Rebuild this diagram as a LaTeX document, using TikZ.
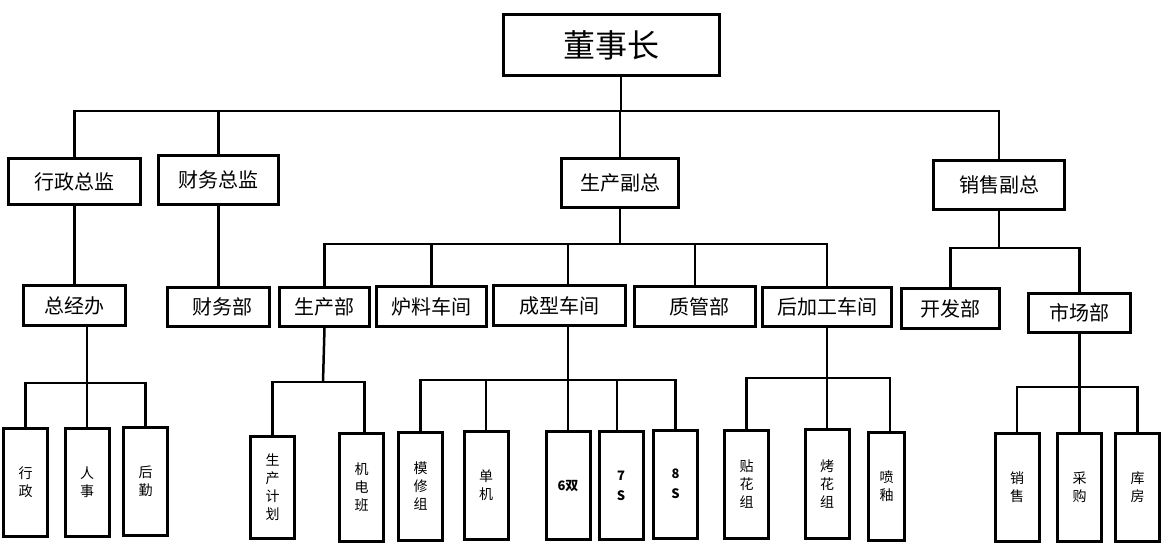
\documentclass[tikz,border=0pt]{standalone}
\usepackage{fontspec}
\newfontfamily\cjk{Noto Sans CJK SC}
\tikzset{>=latex}
\tikzset{
  orgbox/.style={draw, line width=3pt, inner sep=0pt, font=\cjk\fontsize{20}{24}\selectfont},
  colbox/.style={draw, line width=3pt, inner sep=0pt, minimum width=44pt, minimum height=108pt, align=center, font=\cjk\fontsize{14}{18}\selectfont},
  boldcol/.style={colbox, font=\cjk\bfseries\fontsize{13}{20}\selectfont},
  link/.style={line width=2.5pt}
}

\begin{document}
\begin{tikzpicture}[x=1pt,y=-1pt]
		\useasboundingbox (0,0) rectangle (1162,545);
		% top
		\node[orgbox, minimum width=216pt, minimum height=61pt, font=\cjk\fontsize{32}{36}\selectfont] (dsz) at (611.5,45) {董事长};
		% first level
		\node[orgbox, minimum width=132pt, minimum height=46pt] (xzzj) at (74.5,181.5) {行政总监};
		\node[orgbox, minimum width=120pt, minimum height=49pt] (cwzj) at (218.5,180) {财务总监};
		\node[orgbox, minimum width=117pt, minimum height=49pt] (scfz) at (620,183) {生产副总};
		\node[orgbox, minimum width=131pt, minimum height=49pt] (xsfz) at (999,185) {销售副总};
		% second level
		\node[orgbox, minimum width=102pt, minimum height=40pt] (zjb) at (74.5,305.5) {总经办};
		\node[orgbox, minimum width=102pt, minimum height=39pt] (cwb) at (218.5,307) {\hspace{8pt}财务部};
		\node[orgbox, minimum width=90pt, minimum height=39pt] (scb) at (324.5,307) {生产部};
		\node[orgbox, minimum width=110pt, minimum height=40pt] (llcj) at (431.5,306.5) {炉料车间};
		\node[orgbox, minimum width=132pt, minimum height=40pt] (cxcj) at (559.5,305.5) {成型车间};
		\node[orgbox, minimum width=121pt, minimum height=40pt] (zgb) at (695,306.5) {\hspace{8pt}质管部};
		\node[orgbox, minimum width=129pt, minimum height=39pt] (hjg) at (827,307) {后加工车间};
		\node[orgbox, minimum width=98pt, minimum height=40pt] (kfb) at (950.5,308.5) {开发部};
		\node[orgbox, minimum width=102pt, minimum height=39pt] (scb2) at (1079.5,313) {市场部};
		% third level
		\node[colbox] (xz) at (25.5,482.5) {行\\政};
		\node[colbox] (rs) at (87,482) {人\\事};
		\node[colbox] (hq) at (145.5,481) {后\\勤};
		\node[colbox, minimum height=102pt] (jh) at (272.5,487.5) {生\\产\\计\\划};
		\node[colbox] (jdb) at (361.5,487.5) {机\\电\\班};
		\node[colbox] (mxz) at (420.5,486.5) {模\\修\\组};
		\node[colbox] (dj) at (486,485.5) {单\\机};
		\node[boldcol] (sx) at (568,485.5) {6双};
		\node[boldcol] (qs) at (621,485.5) {7\\S};
		\node[boldcol] (bs) at (675.5,484) {8\\S};
		\node[colbox] (thz) at (746.5,484) {贴\\花\\组};
		\node[colbox, minimum height=109pt] (khz) at (827,484) {烤\\花\\组};
		\node[colbox, minimum width=36pt] (py) at (886.5,486.5) {喷\\釉};
		\node[colbox] (xs) at (1017,487.5) {销\\售};
		\node[colbox] (cg) at (1079.5,487.5) {采\\购};
		\node[colbox] (kf) at (1137.5,487) {库\\房};
		% bars
		\coordinate (topbar) at (621,111);
		\coordinate (scbar) at (620,244);
		\coordinate (xsbar) at (999,248);
		\coordinate (zjbar) at (87,383);
		\coordinate (scbbar) at (323,382);
		\coordinate (cxbar) at (568,380);
		\coordinate (hjbar) at (827,378);
		\coordinate (scmbar) at (1079.5,387);
		% connectors
		\draw[link] ([xshift=9.5pt]dsz.south) -- (topbar);
		\draw[link] (xzzj.north) |- (topbar) -| (xsfz.north);
		\draw[link] (cwzj.north) -- (cwzj.north |- topbar);
		\draw[link] (scfz.north) -- (scfz.north |- topbar);
		\draw[link] (xzzj.south) -- (zjb.north);
		\draw[link] (cwzj.south) -- (cwb.north);
		\draw[link] (scfz.south) -- (scbar);
		\draw[link] (scb.north) |- (scbar) -| (hjg.north);
		\draw[link] (llcj.north) -- (llcj.north |- scbar);
		\draw[link] ([xshift=8.5pt]cxcj.north) -- ([xshift=8.5pt]cxcj.north |- scbar);
		\draw[link] (zgb.north) -- (zgb.north |- scbar);
		\draw[link] (xsfz.south) -- (xsbar);
		\draw[link] (kfb.north) |- (xsbar) -| (scb2.north);
		\draw[link] ([xshift=12.5pt]zjb.south) -- (rs.north);
		\draw[link] (xz.north) |- (zjbar) -| (hq.north);
		\draw[link] (scb.south) -- (scbbar);
		\draw[link] (jh.north) |- (scbbar) -| ([xshift=3pt]jdb.north);
		\draw[link] ([xshift=8.5pt]cxcj.south) -- (sx.north);
		\draw[link] (mxz.north) |- (cxbar) -| (bs.north);
		\draw[link] (dj.north) -- (dj.north |- cxbar);
		\draw[link] ([xshift=-4pt]qs.north) -- ([xshift=-4pt]qs.north |- cxbar);
		\draw[link] (hjg.south) -- (khz.north);
		\draw[link] (thz.north) |- (hjbar) -| ([xshift=3.5pt]py.north);
		\draw[link] (scb2.south) -- (cg.north);
		\draw[link] (xs.north) |- (scmbar) -| (kf.north);
	\end{tikzpicture}
\end{document}
